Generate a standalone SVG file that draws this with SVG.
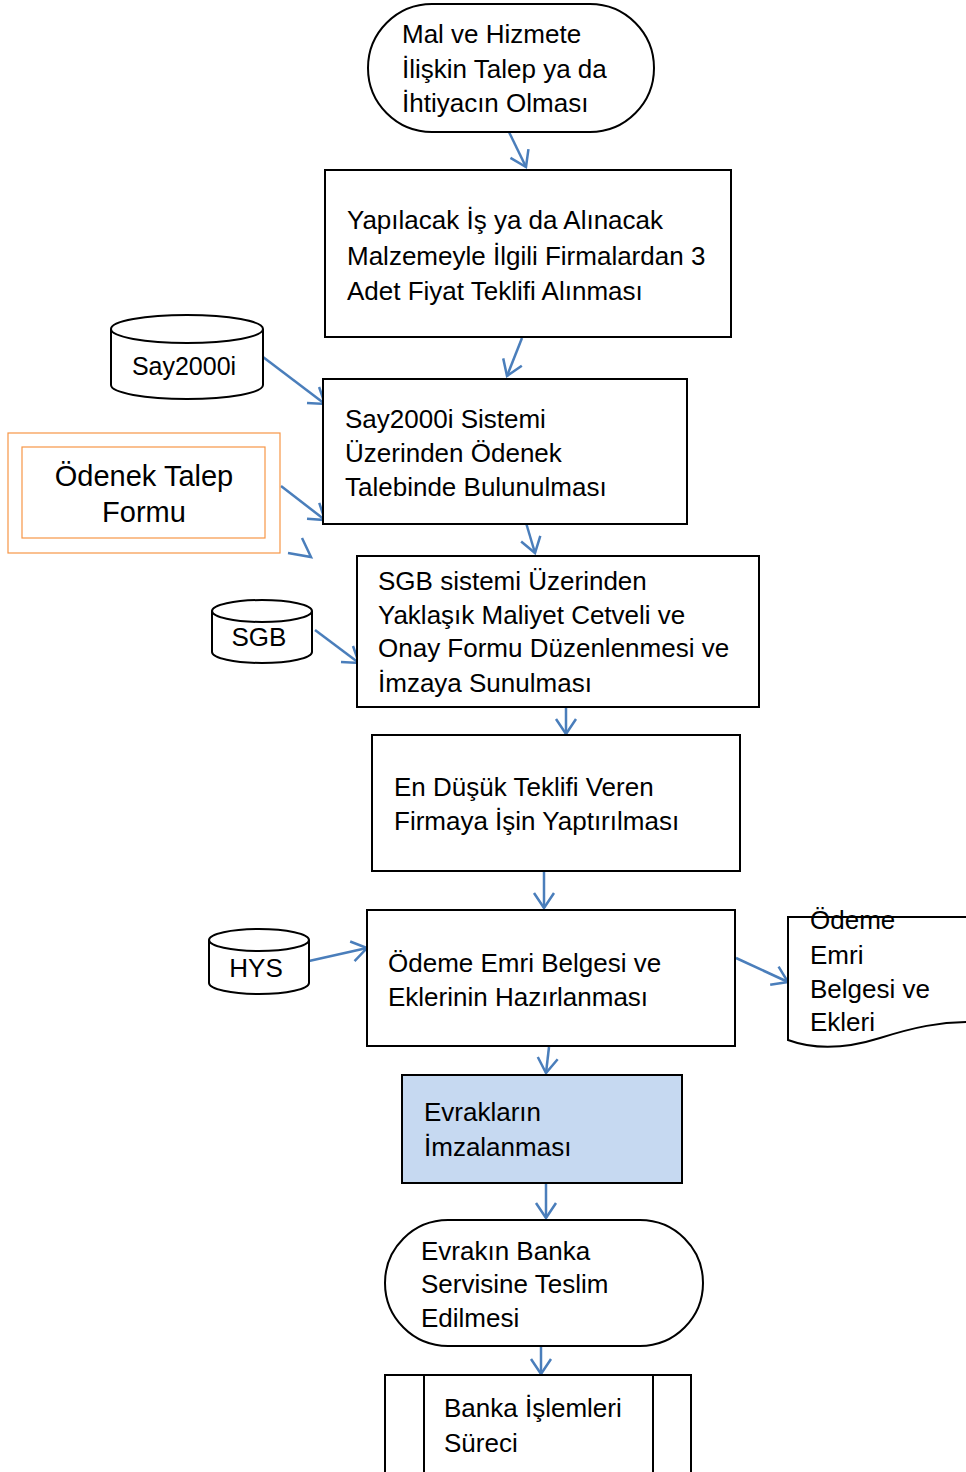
<svg xmlns="http://www.w3.org/2000/svg" width="966" height="1472" viewBox="0 0 966 1472">
<style>
.n{fill:#fff;stroke:#000;stroke-width:2}
.t{font-family:"Liberation Sans",Arial,sans-serif;font-size:26px;fill:#000}
.c{stroke:#4a7ebb;stroke-width:2.5;fill:none}
.o{fill:none;stroke:#f79646;stroke-width:1.2}
</style>
<defs>
<marker id="a" viewBox="0 0 20 20" refX="19" refY="10" markerWidth="20" markerHeight="20" markerUnits="userSpaceOnUse" orient="auto" overflow="visible">
<path d="M4,0 L19,10 L4,20" fill="none" stroke="#4a7ebb" stroke-width="2.5"/>
</marker>
</defs>
<rect width="966" height="1472" fill="#fff"/>
<g id="connectors">
<line class="c" x1="509" y1="132" x2="526" y2="167" marker-end="url(#a)"/>
<line class="c" x1="522" y1="338" x2="507" y2="376" marker-end="url(#a)"/>
<line class="c" x1="263" y1="357" x2="325" y2="404" marker-end="url(#a)"/>
<line class="c" x1="281" y1="486" x2="325" y2="520" marker-end="url(#a)"/>
<path class="c" d="M288,553 L311,557 L302,538"/>
<line class="c" x1="524" y1="516" x2="535" y2="553" marker-end="url(#a)"/>
<line class="c" x1="315" y1="630" x2="359" y2="663" marker-end="url(#a)"/>
<line class="c" x1="566" y1="707" x2="566" y2="734" marker-end="url(#a)"/>
<line class="c" x1="544" y1="871" x2="544" y2="908" marker-end="url(#a)"/>
<line class="c" x1="309" y1="961" x2="367" y2="948" marker-end="url(#a)"/>
<line class="c" x1="736" y1="958" x2="788" y2="982" marker-end="url(#a)"/>
<line class="c" x1="549" y1="1047" x2="546" y2="1073" marker-end="url(#a)"/>
<line class="c" x1="546" y1="1183" x2="546" y2="1218" marker-end="url(#a)"/>
<line class="c" x1="541" y1="1346" x2="541" y2="1374" marker-end="url(#a)"/>
</g>
<g id="n1">
<rect class="n" x="368" y="4" width="286" height="128" rx="64" ry="64"/>
<text class="t" x="402" y="43">Mal ve Hizmete</text>
<text class="t" x="402" y="78">İlişkin Talep ya da</text>
<text class="t" x="402" y="112">İhtiyacın Olması</text>
</g>
<g id="n2">
<rect class="n" x="325" y="170" width="406" height="167"/>
<text class="t" x="347" y="229">Yapılacak İş ya da Alınacak</text>
<text class="t" x="347" y="265">Malzemeyle İlgili Firmalardan 3</text>
<text class="t" x="347" y="300">Adet Fiyat Teklifi Alınması</text>
</g>
<g id="say2000i">
<path class="n" d="M111,329 L111,385 A76,14 0 0 0 263,385 L263,329 A76,14 0 0 0 111,329 Z"/>
<path class="n" d="M111,329 A76,14 0 0 0 263,329" fill="none"/>
<text class="t" x="184" y="375" text-anchor="middle" style="font-size:25px">Say2000i</text>
</g>
<g id="n3">
<rect class="n" x="323" y="379" width="364" height="145"/>
<text class="t" x="345" y="428">Say2000i Sistemi</text>
<text class="t" x="345" y="462">Üzerinden Ödenek</text>
<text class="t" x="345" y="496">Talebinde Bulunulması</text>
</g>
<g id="odenek">
<rect class="o" x="8" y="433" width="272" height="120"/>
<rect class="o" x="22" y="447" width="243" height="91"/>
<text class="t" x="144" y="486" text-anchor="middle" style="font-size:29px">Ödenek Talep</text>
<text class="t" x="144" y="522" text-anchor="middle" style="font-size:29px">Formu</text>
</g>
<g id="n4">
<rect class="n" x="357" y="556" width="402" height="151"/>
<text class="t" x="378" y="590">SGB sistemi Üzerinden</text>
<text class="t" x="378" y="624">Yaklaşık Maliyet Cetveli ve</text>
<text class="t" x="378" y="657">Onay Formu Düzenlenmesi ve</text>
<text class="t" x="378" y="692">İmzaya Sunulması</text>
</g>
<g id="sgb">
<path class="n" d="M212,611 L212,652 A50,11 0 0 0 312,652 L312,611 A50,11 0 0 0 212,611 Z"/>
<path class="n" d="M212,611 A50,11 0 0 0 312,611" fill="none"/>
<text class="t" x="259" y="646" text-anchor="middle">SGB</text>
</g>
<g id="n5">
<rect class="n" x="372" y="735" width="368" height="136"/>
<text class="t" x="394" y="796">En Düşük Teklifi Veren</text>
<text class="t" x="394" y="830">Firmaya İşin Yaptırılması</text>
</g>
<g id="n6">
<rect class="n" x="367" y="910" width="368" height="136"/>
<text class="t" x="388" y="972">Ödeme Emri Belgesi ve</text>
<text class="t" x="388" y="1006">Eklerinin Hazırlanması</text>
</g>
<g id="hys">
<path class="n" d="M209,940 L209,983 A50,11 0 0 0 309,983 L309,940 A50,11 0 0 0 209,940 Z"/>
<path class="n" d="M209,940 A50,11 0 0 0 309,940" fill="none"/>
<text class="t" x="256" y="977" text-anchor="middle">HYS</text>
</g>
<g id="doc">
<path class="n" d="M968,917 L788,917 L788,1040 C815,1050 845,1049 880,1038 C915,1027 940,1022 968,1022"/>
<text class="t" x="810" y="929">Ödeme</text>
<text class="t" x="810" y="964">Emri</text>
<text class="t" x="810" y="998">Belgesi ve</text>
<text class="t" x="810" y="1031">Ekleri</text>
</g>
<g id="n7">
<rect x="402" y="1075" width="280" height="108" fill="#c6d9f1" stroke="#000" stroke-width="2"/>
<text class="t" x="424" y="1121">Evrakların</text>
<text class="t" x="424" y="1156">İmzalanması</text>
</g>
<g id="n8">
<rect class="n" x="385" y="1220" width="318" height="126" rx="63" ry="63"/>
<text class="t" x="421" y="1260">Evrakın Banka</text>
<text class="t" x="421" y="1293">Servisine Teslim</text>
<text class="t" x="421" y="1327">Edilmesi</text>
</g>
<g id="n9">
<rect class="n" x="385" y="1375" width="306" height="110"/>
<line x1="424" y1="1375" x2="424" y2="1472" stroke="#000" stroke-width="2"/>
<line x1="653" y1="1375" x2="653" y2="1472" stroke="#000" stroke-width="2"/>
<text class="t" x="444" y="1417">Banka İşlemleri</text>
<text class="t" x="444" y="1452">Süreci</text>
</g>
</svg>
